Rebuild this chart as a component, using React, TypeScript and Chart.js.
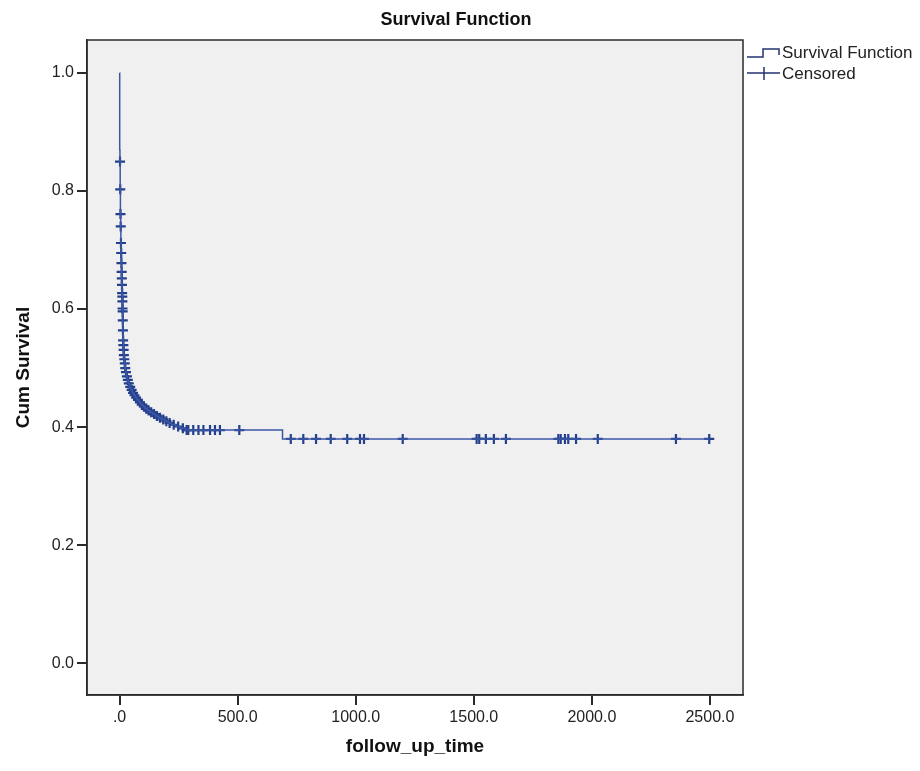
import React, { useEffect, useRef } from "react";
import { Chart, registerables } from "chart.js";

Chart.register(...registerables);

const chartTitle = "Survival Function";
const xAxisTitle = "follow_up_time";
const yAxisTitle = "Cum Survival";
const legendLabels = ["Survival Function", "Censored"];

const xTickValues = [0, 500, 1000, 1500, 2000, 2500];
const xTickLabels = [".0", "500.0", "1000.0", "1500.0", "2000.0", "2500.0"];
const yTickValues = [0, 0.2, 0.4, 0.6, 0.8, 1.0];
const yTickLabels = ["0.0", "0.2", "0.4", "0.6", "0.8", "1.0"];

// Kaplan-Meier step function: time, survival after that time
const curveTimes = [
  0, 0.5, 1.5, 2.5, 3.5, 4.5, 5.5, 6.5, 7.5, 8.5,
  9.2, 9.8, 10.5, 11.2, 11.8, 12.2, 12.8, 13.2, 13.8, 14.5,
  15.5, 16.5, 17.5, 19, 21, 23, 26, 29, 33, 37,
  42, 48, 54, 60, 67, 74, 82, 90, 99, 108,
  118, 128, 140, 152, 165, 178, 192, 205, 220, 238,
  258, 278, 690, 2497,
];
const curveSurv = [
  1.0, 0.87, 0.85, 0.803, 0.761, 0.74, 0.712, 0.695, 0.678, 0.663,
  0.652, 0.641, 0.627, 0.621, 0.613, 0.601, 0.596, 0.581, 0.564, 0.547,
  0.539, 0.531, 0.522, 0.515, 0.508, 0.5, 0.493, 0.486, 0.48, 0.474,
  0.468, 0.463, 0.458, 0.454, 0.45, 0.446, 0.442, 0.438, 0.435, 0.431,
  0.428, 0.425, 0.422, 0.419, 0.416, 0.413, 0.41, 0.407, 0.404, 0.401,
  0.398, 0.395, 0.38, 0.38,
];

// Censored observations
const censorTimes = [
  1.8, 2.8, 3.8, 4.8, 5.8, 6.8, 7.8, 8.8, 9.5, 10.1,
  10.8, 11.5, 12.0, 12.5, 13.0, 13.5, 14.1, 15, 16, 17,
  18, 20, 22, 24, 27, 31, 35, 39, 45, 51,
  57, 63, 70, 78, 86, 94, 103, 113, 123, 134,
  146, 158, 171, 185, 198, 212, 229, 248, 268, 284,
  291, 312, 334, 355, 383, 404, 425, 507,
  725, 778, 832, 894, 964, 1018, 1035, 1199, 1512, 1523,
  1551, 1585, 1636, 1858, 1868, 1886, 1900, 1933, 2025, 2356, 2497,
];
const censorSurv = [
  0.85, 0.803, 0.761, 0.74, 0.712, 0.695, 0.678, 0.663, 0.652, 0.641,
  0.627, 0.621, 0.613, 0.601, 0.596, 0.581, 0.564, 0.547, 0.539, 0.531,
  0.522, 0.515, 0.508, 0.5, 0.493, 0.486, 0.48, 0.474, 0.468, 0.463,
  0.458, 0.454, 0.45, 0.446, 0.442, 0.438, 0.435, 0.431, 0.428, 0.425,
  0.422, 0.419, 0.416, 0.413, 0.41, 0.407, 0.404, 0.401, 0.398, 0.395,
  0.395, 0.395, 0.395, 0.395, 0.395, 0.395, 0.395, 0.395,
  0.38, 0.38, 0.38, 0.38, 0.38, 0.38, 0.38, 0.38, 0.38, 0.38,
  0.38, 0.38, 0.38, 0.38, 0.38, 0.38, 0.38, 0.38, 0.38, 0.38, 0.38,
];

const FONT = "'Liberation Sans', Arial, sans-serif";
const lineColor = "#3b57a6";
const markColor = "#24408c";
const legendColor = "#22346e";

export default function App() {
  const ref = useRef<HTMLCanvasElement>(null);

  useEffect(() => {
    document.body.style.margin = "0";
    const canvas = ref.current;
    if (!canvas) return;

    const decor = {
      id: "decor",
      beforeDraw(chart: any) {
        const { ctx, chartArea: a } = chart;
        ctx.save();
        ctx.fillStyle = "#ffffff";
        ctx.fillRect(0, 0, chart.width, chart.height);
        ctx.fillStyle = "#f0f0f0";
        ctx.fillRect(a.left, a.top, a.right - a.left, a.bottom - a.top);
        ctx.restore();
      },
      afterDraw(chart: any) {
        const { ctx, chartArea: a } = chart;
        ctx.save();
        // plot frame
        ctx.strokeStyle = "#2a2a2a";
        ctx.lineWidth = 1.5;
        ctx.strokeRect(a.left, a.top, a.right - a.left, a.bottom - a.top);
        // title
        ctx.fillStyle = "#111111";
        ctx.font = `bold 18px ${FONT}`;
        ctx.textAlign = "center";
        ctx.textBaseline = "middle";
        ctx.fillText(chartTitle, 456, 20);
        // legend
        const lx = a.right + 4;
        ctx.strokeStyle = legendColor;
        ctx.lineWidth = 1.5;
        ctx.beginPath();
        ctx.moveTo(lx, 57);
        ctx.lineTo(lx + 16, 57);
        ctx.lineTo(lx + 16, 49);
        ctx.lineTo(lx + 32, 49);
        ctx.lineTo(lx + 32, 55);
        ctx.stroke();
        ctx.beginPath();
        ctx.moveTo(lx, 73);
        ctx.lineTo(lx + 33, 73);
        ctx.moveTo(lx + 17, 67);
        ctx.lineTo(lx + 17, 80);
        ctx.stroke();
        ctx.fillStyle = "#222222";
        ctx.font = `17px ${FONT}`;
        ctx.textAlign = "left";
        ctx.fillText(legendLabels[0], lx + 35, 53);
        ctx.fillText(legendLabels[1], lx + 35, 74);
        ctx.restore();
      },
    };

    const chart = new Chart(canvas, {
      type: "scatter",
      data: {
        datasets: [
          {
            label: legendLabels[0],
            data: curveTimes.map((t, i) => ({ x: t, y: curveSurv[i] })),
            showLine: true,
            stepped: true,
            borderColor: lineColor,
            borderWidth: 1.5,
            pointRadius: 0,
            fill: false,
          },
          {
            label: legendLabels[1],
            data: censorTimes.map((t, i) => ({ x: t, y: censorSurv[i] })),
            showLine: false,
            pointStyle: "cross",
            pointRadius: 5,
            borderColor: markColor,
            backgroundColor: markColor,
            borderWidth: 2.2,
          },
        ],
      } as any,
      options: {
        animation: false,
        responsive: true,
        maintainAspectRatio: false,
        layout: { padding: { top: 40, right: 177, left: 0, bottom: 0 } },
        plugins: { legend: { display: false }, title: { display: false }, tooltip: { enabled: false } },
        scales: {
          x: {
            type: "linear",
            min: -138,
            max: 2640,
            afterBuildTicks: (s: any) => {
              s.ticks = xTickValues.map((v) => ({ value: v }));
            },
            afterFit: (s: any) => {
              s.height = 76;
            },
            ticks: {
              callback: (v: any) => xTickLabels[xTickValues.indexOf(Number(v))] ?? "",
              font: { family: FONT, size: 16 },
              color: "#222222",
              padding: 3,
              maxRotation: 0,
              autoSkip: false,
            },
            grid: { display: true, drawOnChartArea: false, drawTicks: true, tickLength: 10, color: "#2a2a2a", lineWidth: 2 },
            border: { display: true, color: "#2a2a2a", width: 1.5 },
            title: {
              display: true,
              text: xAxisTitle,
              font: { family: FONT, size: 19, weight: "bold" },
              color: "#111111",
              padding: { top: 0, bottom: 13 },
            },
          },
          y: {
            type: "linear",
            min: -0.054,
            max: 1.056,
            afterBuildTicks: (s: any) => {
              s.ticks = yTickValues.map((v) => ({ value: v }));
            },
            afterFit: (s: any) => {
              s.width = 87;
            },
            ticks: {
              callback: (v: any) => {
                const i = yTickValues.findIndex((t) => Math.abs(t - Number(v)) < 1e-9);
                return i >= 0 ? yTickLabels[i] : "";
              },
              font: { family: FONT, size: 16 },
              color: "#222222",
              padding: 3,
              autoSkip: false,
            },
            grid: { display: true, drawOnChartArea: false, drawTicks: true, tickLength: 10, color: "#2a2a2a", lineWidth: 2 },
            border: { display: true, color: "#2a2a2a", width: 1.5 },
            title: {
              display: true,
              text: yAxisTitle,
              font: { family: FONT, size: 19, weight: "bold" },
              color: "#111111",
              padding: { top: 12, bottom: 0 },
            },
          },
        },
      } as any,
      plugins: [decor],
    });

    return () => chart.destroy();
  }, []);

  return (
    <div style={{ position: "absolute", left: 0, top: 0, width: 920, height: 771 }}>
      <canvas ref={ref} />
    </div>
  );
}
